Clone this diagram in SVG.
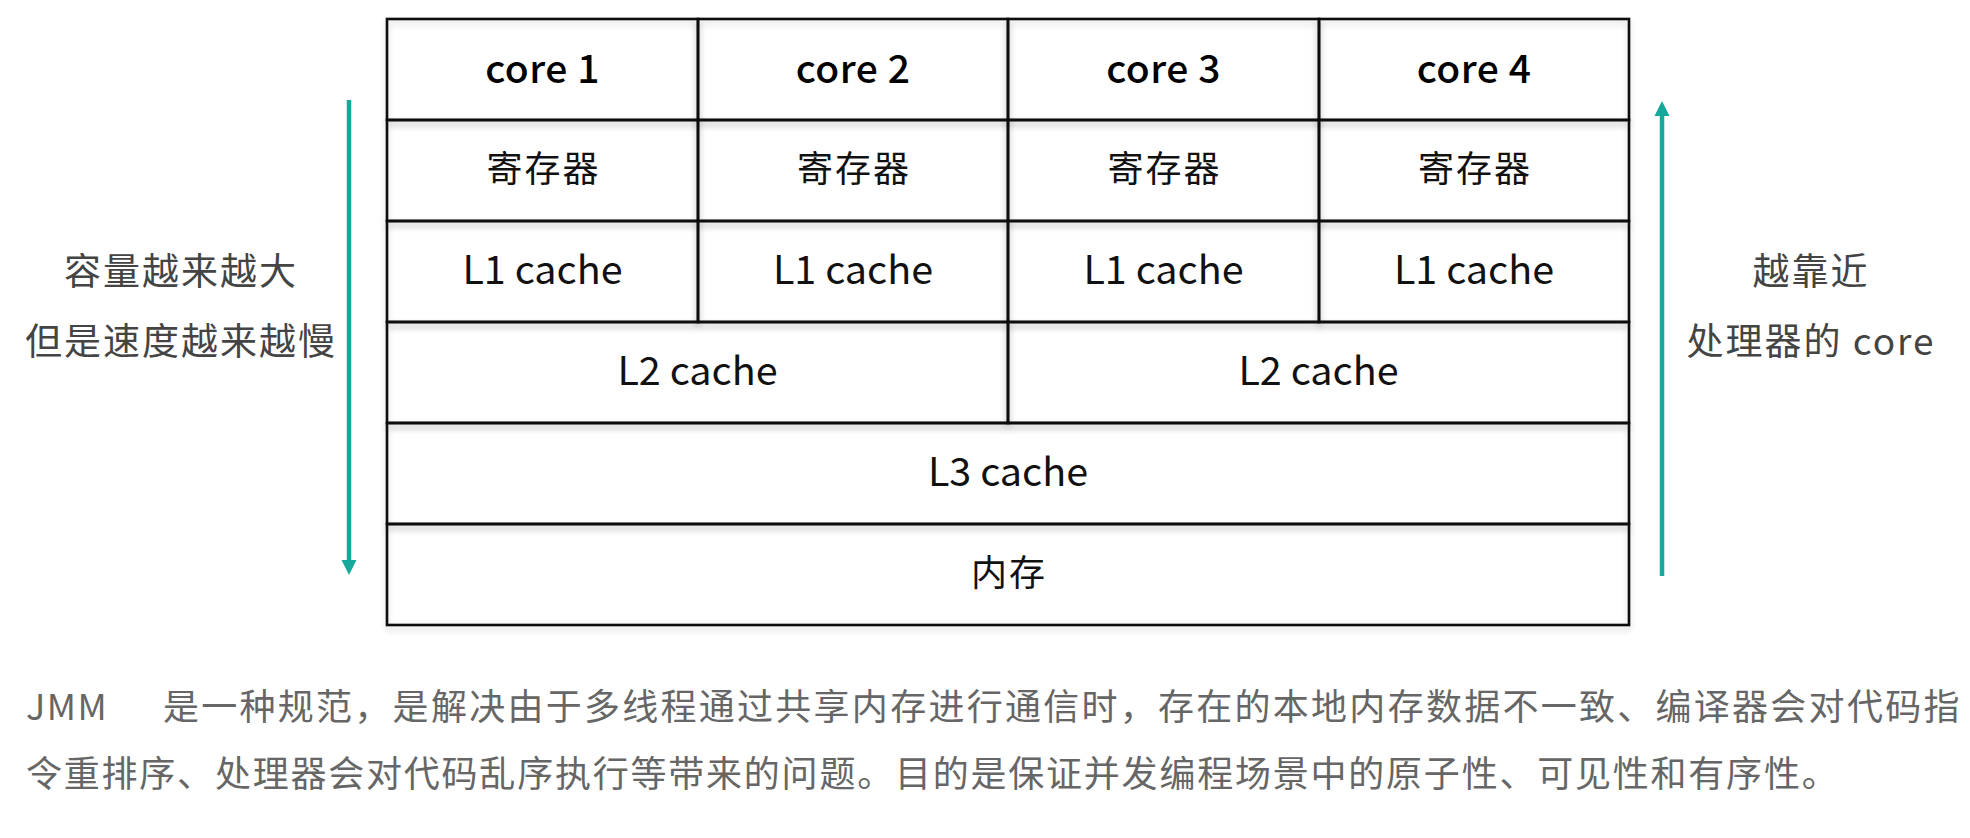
<svg xmlns="http://www.w3.org/2000/svg" width="1970" height="838" viewBox="0 0 1970 838">
  <style>
    .cell { fill: none; stroke: #111; stroke-width: 2.6; filter: url(#soft); }
    .hd { font-family: "Noto Sans CJK SC", "Noto Sans", sans-serif; font-size: 39px; font-weight: 500; fill: #000; text-anchor: middle; letter-spacing: 0.5px; }
    .tx { font-family: "Noto Sans CJK SC", "Noto Sans", sans-serif; font-size: 39.5px; fill: #111; text-anchor: middle; }
    .cj { font-family: "Noto Sans CJK SC", sans-serif; font-size: 36px; fill: #111; text-anchor: middle; letter-spacing: 2px; }
    .side { font-family: "Noto Sans CJK SC", sans-serif; font-size: 37px; fill: #444; text-anchor: middle; letter-spacing: 2px; }
    .note { font-family: "Noto Sans CJK SC", sans-serif; font-size: 36px; fill: #666; }
    .arrow { stroke: #14a99a; stroke-width: 4.5; fill: none; }
  </style>
  <defs>
    <filter id="soft" x="-5%" y="-20%" width="110%" height="140%">
      <feDropShadow dx="0" dy="4" stdDeviation="3" flood-color="#000" flood-opacity="0.16"/>
    </filter>
    <marker id="head" markerWidth="16" markerHeight="16" refX="8" refY="8" orient="auto" markerUnits="userSpaceOnUse">
      <path d="M0,0.5 L15,8 L0,15.5 Z" fill="#14a99a"/>
    </marker>
  </defs>
  <rect width="1970" height="838" fill="#fff"/>

  <!-- core row -->
  <g id="core1"><rect class="cell" x="387" y="19" width="311" height="101"/><text class="hd" x="542.5" y="83">core 1</text></g>
  <g id="core2"><rect class="cell" x="698" y="19" width="310" height="101"/><text class="hd" x="853" y="83">core 2</text></g>
  <g id="core3"><rect class="cell" x="1008" y="19" width="311" height="101"/><text class="hd" x="1163.5" y="83">core 3</text></g>
  <g id="core4"><rect class="cell" x="1319" y="19" width="310" height="101"/><text class="hd" x="1474" y="83">core 4</text></g>

  <!-- registers -->
  <g id="reg1"><rect class="cell" x="387" y="120" width="311" height="101"/><text class="cj" x="543.5" y="182">寄存器</text></g>
  <g id="reg2"><rect class="cell" x="698" y="120" width="310" height="101"/><text class="cj" x="854" y="182">寄存器</text></g>
  <g id="reg3"><rect class="cell" x="1008" y="120" width="311" height="101"/><text class="cj" x="1164.5" y="182">寄存器</text></g>
  <g id="reg4"><rect class="cell" x="1319" y="120" width="310" height="101"/><text class="cj" x="1475" y="182">寄存器</text></g>

  <!-- L1 caches -->
  <g id="l1a"><rect class="cell" x="387" y="221" width="311" height="101"/><text class="tx" x="542.5" y="284">L1 cache</text></g>
  <g id="l1b"><rect class="cell" x="698" y="221" width="310" height="101"/><text class="tx" x="853" y="284">L1 cache</text></g>
  <g id="l1c"><rect class="cell" x="1008" y="221" width="311" height="101"/><text class="tx" x="1163.5" y="284">L1 cache</text></g>
  <g id="l1d"><rect class="cell" x="1319" y="221" width="310" height="101"/><text class="tx" x="1474" y="284">L1 cache</text></g>

  <!-- L2 caches -->
  <g id="l2a"><rect class="cell" x="387" y="322" width="621" height="101"/><text class="tx" x="697.5" y="385">L2 cache</text></g>
  <g id="l2b"><rect class="cell" x="1008" y="322" width="621" height="101"/><text class="tx" x="1318.5" y="385">L2 cache</text></g>

  <!-- L3 cache -->
  <g id="l3"><rect class="cell" x="387" y="423" width="1242" height="101"/><text class="tx" x="1008" y="486">L3 cache</text></g>

  <!-- main memory -->
  <g id="mem"><rect class="cell" x="387" y="524" width="1242" height="101"/><text class="cj" x="1009" y="586">内存</text></g>

  <!-- side arrows -->
  <g id="connectors">
    <line class="arrow" x1="349" y1="100" x2="349" y2="568" marker-end="url(#head)"/>
    <line class="arrow" x1="1662" y1="576" x2="1662" y2="108" marker-end="url(#head)"/>
  </g>

  <g id="left-label">
    <text class="side" x="181" y="285">容量越来越大</text>
    <text class="side" x="181" y="355">但是速度越来越慢</text>
  </g>
  <g id="right-label">
    <text class="side" x="1811" y="285">越靠近</text>
    <text class="side" x="1811" y="355">处理器的 core</text>
  </g>

  <!-- description -->
  <g id="note">
    <text class="note" y="720"><tspan x="26" letter-spacing="1.5">JMM</tspan><tspan x="163" letter-spacing="2.27">是一种规范，是解决由于多线程通过共享内存进行通信时，存在的本地内存数据不一致、编译器会对代码指</tspan></text>
    <text class="note" x="26" y="787" letter-spacing="1.78">令重排序、处理器会对代码乱序执行等带来的问题。目的是保证并发编程场景中的原子性、可见性和有序性。</text>
  </g>
</svg>
